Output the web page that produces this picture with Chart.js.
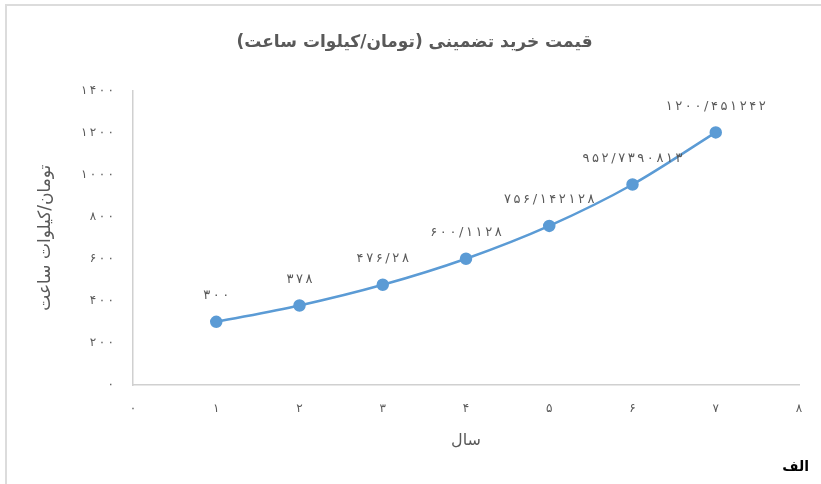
<!DOCTYPE html>
<html lang="fa">
<head>
<meta charset="utf-8">
<title>قیمت خرید تضمینی</title>
<script src="https://cdn.jsdelivr.net/npm/chart.js@4/dist/chart.umd.min.js"></script>
<style>
  html, body { margin: 0; padding: 0; background: #fff; overflow: hidden; }
  #wrap { position: relative; width: 821px; height: 484px; overflow: hidden; }
  canvas { display: block; }
  #tag { position: absolute; right: 12px; top: 458px; font-family: "DejaVu Sans", sans-serif;
         font-weight: bold; font-size: 14px; color: #000; direction: rtl; }
</style>
</head>
<body>
<div id="wrap">
  <canvas id="c" width="821" height="484"></canvas>
  <div id="tag">الف</div>
</div>
<script>
// Years and guaranteed purchase price per kWh
const years = [1, 2, 3, 4, 5, 6, 7];
const prices = [300, 378, 476.28, 600.1128, 756.142128, 952.7390813, 1200.451242];
const yTicks = [0, 200, 400, 600, 800, 1000, 1200, 1400];
const xTicks = [0, 1, 2, 3, 4, 5, 6, 7, 8];

const chartTitle = 'قیمت خرید تضمینی (تومان/کیلوات ساعت)';
const yTitle = 'تومان/کیلوات ساعت';
const xTitle = 'سال';

const FONT = '"DejaVu Sans", sans-serif';
const GREY = '#595959';
const BLUE = '#5b9bd5';

// Persian digits, with "/" as decimal separator; optional spacing between glyphs
const faDigits = ['۰','۱','۲','۳','۴','۵','۶','۷','۸','۹'];
function toFa(v, sep) {
  const s = String(v).replace(/[0-9]/g, d => faDigits[+d]).replace('.', '/');
  return sep ? s.split('').join(sep) : s;
}

// Light frame along the top and left edges of the canvas
const frame = {
  id: 'frame',
  beforeDraw(chart) {
    const ctx = chart.ctx;
    ctx.save();
    ctx.strokeStyle = '#dcdcdc';
    ctx.lineWidth = 2;
    ctx.beginPath();
    ctx.moveTo(6, chart.height);
    ctx.lineTo(6, 5);
    ctx.lineTo(chart.width, 5);
    ctx.stroke();
    ctx.restore();
  }
};

// Value labels above each point
const valueLabels = {
  id: 'valueLabels',
  afterDatasetsDraw(chart) {
    const ctx = chart.ctx;
    const meta = chart.getDatasetMeta(0);
    ctx.save();
    ctx.font = '13px ' + FONT;
    ctx.fillStyle = GREY;
    ctx.textAlign = 'center';
    ctx.textBaseline = 'middle';
    meta.data.forEach((pt, i) => {
      ctx.fillText(toFa(prices[i], '\u2009'), pt.x, pt.y - 26);
    });
    ctx.restore();
  }
};

new Chart(document.getElementById('c'), {
  type: 'line',
  data: {
    datasets: [{
      data: years.map((x, i) => ({ x: x, y: prices[i] })),
      borderColor: BLUE,
      backgroundColor: BLUE,
      borderWidth: 2.5,
      pointRadius: 5,
      pointBackgroundColor: BLUE,
      pointBorderColor: BLUE,
      cubicInterpolationMode: 'monotone',
      fill: false
    }]
  },
  options: {
    responsive: false,
    animation: false,
    events: [],
    layout: { padding: { left: 30, right: 22, top: 6, bottom: 0 } },
    plugins: {
      legend: { display: false },
      tooltip: { enabled: false },
      title: {
        display: true,
        text: chartTitle,
        color: GREY,
        font: { family: FONT, size: 17, weight: 'bold' },
        padding: { top: 26, bottom: 38 }
      }
    },
    scales: {
      x: {
        type: 'linear',
        min: 0, max: 8,
        afterBuildTicks(scale) { scale.ticks = xTicks.map(v => ({ value: v })); },
        afterFit(scale) { scale.height = 99; },
        grid: { display: false, drawTicks: false },
        border: { display: true, color: '#d0d0d0', width: 1.5 },
        ticks: {
          color: GREY, padding: 17,
          font: { family: FONT, size: 12 },
          callback: v => toFa(v)
        },
        title: {
          display: true, text: xTitle, color: GREY,
          font: { family: FONT, size: 16 },
          padding: { top: 0, bottom: 34 }
        }
      },
      y: {
        min: 0, max: 1400,
        afterBuildTicks(scale) { scale.ticks = yTicks.map(v => ({ value: v })); },
        afterFit(scale) { scale.width = 103; },
        grid: { display: false, drawTicks: false },
        border: { display: true, color: '#d0d0d0', width: 1.5 },
        ticks: {
          color: GREY, padding: 19,
          font: { family: FONT, size: 12 },
          callback: v => toFa(v, '\u2009')
        },
        title: {
          display: true, text: yTitle, color: GREY,
          font: { family: FONT, size: 17 },
          padding: { top: 5, bottom: 0 }
        }
      }
    }
  },
  plugins: [frame, valueLabels]
});
</script>
</body>
</html>
